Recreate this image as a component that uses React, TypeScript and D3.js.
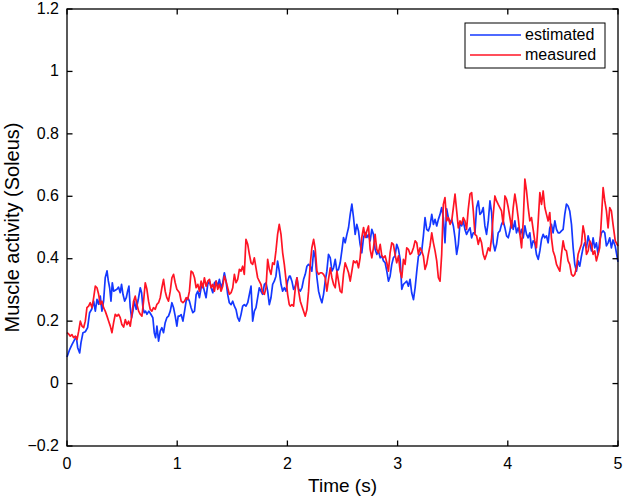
import React from "react";
import * as d3 from "d3";

const xTicks = [0, 1, 2, 3, 4, 5];
const yTicks = [-0.2, 0, 0.2, 0.4, 0.6, 0.8, 1, 1.2];
const yTickLabels = ["\u22120.2", "0", "0.2", "0.4", "0.6", "0.8", "1", "1.2"];
const seriesNames = ["estimated", "measured"];

const estimatedTime = [
  0.000, 0.024, 0.045, 0.069, 0.085, 0.097, 0.115, 0.127, 0.145, 0.166, 0.187, 0.205, 0.224, 0.242, 0.257, 0.272, 0.287, 0.302, 0.317, 0.332,
  0.347, 0.363, 0.375, 0.387, 0.399, 0.411, 0.423, 0.438, 0.453, 0.468, 0.483, 0.495, 0.508, 0.523, 0.538, 0.550, 0.562, 0.574, 0.586, 0.598,
  0.610, 0.628, 0.647, 0.665, 0.677, 0.689, 0.701, 0.713, 0.725, 0.743, 0.761, 0.779, 0.792, 0.804, 0.816, 0.831, 0.846, 0.861, 0.876, 0.891,
  0.906, 0.921, 0.937, 0.952, 0.967, 0.982, 0.997, 1.009,
  1.021, 1.036, 1.052, 1.067, 1.081, 1.096, 1.111, 1.126, 1.142, 1.157, 1.172, 1.187, 1.202, 1.217, 1.232, 1.247, 1.262, 1.277, 1.293, 1.308,
  1.323, 1.338, 1.353, 1.368, 1.383, 1.398, 1.413, 1.428, 1.443, 1.458, 1.473, 1.489, 1.504, 1.519, 1.534, 1.549, 1.564, 1.579, 1.594, 1.609,
  1.624, 1.640, 1.655, 1.670, 1.685, 1.700, 1.715, 1.730, 1.745, 1.760, 1.775, 1.791, 1.806, 1.821, 1.836, 1.851, 1.866, 1.881, 1.896, 1.911,
  1.926, 1.942, 1.957, 1.972, 1.987, 2.002,
  2.017, 2.026, 2.041, 2.056, 2.072, 2.087, 2.102, 2.117, 2.132, 2.147, 2.162, 2.177, 2.192, 2.207, 2.222, 2.238, 2.253, 2.268, 2.283, 2.298,
  2.313, 2.328, 2.343, 2.358, 2.373, 2.389, 2.404, 2.419, 2.434, 2.449, 2.464, 2.479, 2.494, 2.509, 2.524, 2.540, 2.555, 2.570, 2.585, 2.600,
  2.615, 2.630, 2.645, 2.660, 2.675, 2.691, 2.706, 2.721, 2.736, 2.751, 2.766, 2.781, 2.796, 2.811, 2.826, 2.842, 2.857, 2.872, 2.887, 2.902,
  2.917, 2.932, 2.947, 2.962, 2.977, 2.992, 3.008,
  3.023, 3.038, 3.053, 3.068, 3.083, 3.098, 3.113, 3.128, 3.144, 3.159, 3.174, 3.189, 3.204, 3.219, 3.234, 3.249, 3.264, 3.279, 3.294, 3.310,
  3.325, 3.340, 3.355, 3.370, 3.385, 3.400, 3.415, 3.430, 3.445, 3.460, 3.476, 3.491, 3.506, 3.521, 3.536, 3.551, 3.566, 3.581, 3.596, 3.611,
  3.626, 3.641, 3.657, 3.672, 3.687, 3.702, 3.717, 3.732, 3.747, 3.762, 3.777, 3.792, 3.807, 3.823, 3.838, 3.853, 3.868, 3.883, 3.898, 3.913,
  3.928, 3.943, 3.958, 3.974, 3.989, 4.004,
  4.019, 4.034, 4.049, 4.064, 4.079, 4.094, 4.110, 4.125, 4.140, 4.155, 4.170, 4.185, 4.200, 4.215, 4.230, 4.245, 4.260, 4.276, 4.291, 4.306,
  4.321, 4.336, 4.351, 4.366, 4.381, 4.396, 4.411, 4.427, 4.442, 4.457, 4.472, 4.487, 4.502, 4.517, 4.532, 4.547, 4.562, 4.578, 4.593, 4.608,
  4.623, 4.638, 4.653, 4.668, 4.683, 4.698, 4.714, 4.729, 4.744, 4.759, 4.774, 4.789, 4.804, 4.819, 4.834, 4.850, 4.865, 4.880, 4.895, 4.910,
  4.925, 4.940, 4.955, 4.975, 5.0,
];
const estimatedValue = [
  0.085, 0.109, 0.125, 0.141, 0.149, 0.115, 0.098, 0.131, 0.163, 0.166, 0.179, 0.227, 0.238, 0.264, 0.232, 0.270, 0.254, 0.280, 0.232, 0.264,
  0.339, 0.361, 0.329, 0.307, 0.264, 0.323, 0.296, 0.299, 0.302, 0.309, 0.291, 0.318, 0.286, 0.264, 0.275, 0.296, 0.312, 0.243, 0.211, 0.232,
  0.264, 0.238, 0.270, 0.307, 0.291, 0.243, 0.227, 0.232, 0.222, 0.232, 0.222, 0.211, 0.163, 0.147, 0.184, 0.136, 0.168, 0.179, 0.163, 0.195,
  0.211, 0.216, 0.232, 0.259, 0.243, 0.216, 0.184, 0.216,
  0.216, 0.221, 0.200, 0.232, 0.264, 0.275, 0.264, 0.243, 0.227, 0.232, 0.285, 0.296, 0.275, 0.307, 0.318, 0.296, 0.275, 0.318, 0.328, 0.307,
  0.291, 0.323, 0.328, 0.312, 0.334, 0.307, 0.323, 0.355, 0.328, 0.286, 0.259, 0.253, 0.264, 0.248, 0.237, 0.211, 0.200, 0.221, 0.248, 0.253,
  0.248, 0.259, 0.286, 0.312, 0.200, 0.232, 0.243, 0.275, 0.307, 0.296, 0.286, 0.318, 0.323, 0.296, 0.253, 0.275, 0.318, 0.328, 0.344, 0.392,
  0.361, 0.318, 0.296, 0.307, 0.296, 0.328,
  0.344, 0.344, 0.328, 0.302, 0.312, 0.339, 0.302, 0.296, 0.307, 0.334, 0.350, 0.376, 0.382, 0.376, 0.360, 0.425, 0.403, 0.339, 0.296, 0.275,
  0.259, 0.286, 0.328, 0.360, 0.414, 0.403, 0.360, 0.371, 0.398, 0.360, 0.366, 0.387, 0.425, 0.468, 0.451, 0.478, 0.500, 0.542, 0.575, 0.532,
  0.478, 0.510, 0.489, 0.446, 0.419, 0.468, 0.484, 0.468, 0.478, 0.457, 0.494, 0.478, 0.430, 0.414, 0.425, 0.403, 0.409, 0.393, 0.387, 0.360,
  0.328, 0.344, 0.382, 0.403, 0.409, 0.446, 0.430,
  0.398, 0.302, 0.318, 0.323, 0.328, 0.312, 0.334, 0.291, 0.269, 0.307, 0.360, 0.408, 0.414, 0.425, 0.473, 0.532, 0.494, 0.489, 0.505, 0.542,
  0.510, 0.526, 0.505, 0.526, 0.542, 0.564, 0.532, 0.451, 0.560, 0.532, 0.515, 0.526, 0.505, 0.467, 0.414, 0.446, 0.515, 0.505, 0.521, 0.494,
  0.478, 0.489, 0.499, 0.467, 0.483, 0.483, 0.564, 0.585, 0.542, 0.548, 0.564, 0.505, 0.478, 0.521, 0.585, 0.548, 0.451, 0.425, 0.446, 0.483,
  0.489, 0.510, 0.521, 0.499, 0.473, 0.467,
  0.489, 0.521, 0.494, 0.521, 0.483, 0.499, 0.478, 0.494, 0.467, 0.505, 0.478, 0.467, 0.483, 0.435, 0.457, 0.451, 0.414, 0.398, 0.425, 0.462,
  0.478, 0.467, 0.473, 0.451, 0.499, 0.510, 0.483, 0.521, 0.494, 0.483, 0.483, 0.489, 0.494, 0.542, 0.575, 0.569, 0.553, 0.510, 0.435, 0.382,
  0.360, 0.393, 0.376, 0.408, 0.435, 0.451, 0.435, 0.473, 0.451, 0.425, 0.467, 0.435, 0.451, 0.414, 0.457, 0.483, 0.489, 0.483, 0.441, 0.451,
  0.467, 0.435, 0.460, 0.440, 0.390,
];

const measuredTime = [
  0.000, 0.015, 0.030, 0.045, 0.060, 0.076, 0.091, 0.106, 0.121, 0.136, 0.151, 0.166, 0.181, 0.196, 0.211, 0.227, 0.242, 0.257, 0.272, 0.287,
  0.302, 0.317, 0.332, 0.347, 0.363, 0.378, 0.393, 0.408, 0.423, 0.438, 0.453, 0.468, 0.483, 0.498, 0.514, 0.529, 0.544, 0.559, 0.574, 0.589,
  0.604, 0.619, 0.634, 0.650, 0.665, 0.680, 0.695, 0.710, 0.725, 0.740, 0.755, 0.770, 0.785, 0.801, 0.816, 0.831, 0.846, 0.861, 0.876, 0.891,
  0.906, 0.921, 0.937, 0.952, 0.967, 0.982, 0.997,
  1.021, 1.036, 1.052, 1.067, 1.081, 1.096, 1.111, 1.126, 1.142, 1.157, 1.172, 1.187, 1.202, 1.217, 1.232, 1.247, 1.262, 1.277, 1.293, 1.308,
  1.323, 1.338, 1.353, 1.368, 1.383, 1.398, 1.413, 1.428, 1.443, 1.458, 1.473, 1.489, 1.504, 1.519, 1.534, 1.549, 1.564, 1.579, 1.594, 1.609,
  1.624, 1.640, 1.655, 1.670, 1.685, 1.700, 1.715, 1.730, 1.745, 1.760, 1.775, 1.791, 1.806, 1.821, 1.836, 1.851, 1.866, 1.881, 1.896, 1.911,
  1.926, 1.942, 1.957, 1.972, 1.987, 2.002, 2.017,
  2.026, 2.041, 2.056, 2.072, 2.087, 2.102, 2.117, 2.132, 2.147, 2.162, 2.177, 2.192, 2.207, 2.222, 2.238, 2.253, 2.268, 2.283, 2.298,
  2.313, 2.328, 2.343, 2.358, 2.373, 2.389, 2.404, 2.419, 2.434, 2.449, 2.464, 2.479, 2.494, 2.509, 2.524, 2.540, 2.555, 2.570, 2.585, 2.600,
  2.615, 2.630, 2.645, 2.660, 2.675, 2.691, 2.706, 2.721, 2.736, 2.751, 2.766, 2.781, 2.796, 2.811, 2.826, 2.842, 2.857, 2.872, 2.887, 2.902,
  2.917, 2.932, 2.947, 2.962, 2.977, 2.992, 3.008,
  3.023, 3.038, 3.053, 3.068, 3.083, 3.098, 3.113, 3.128, 3.144, 3.159, 3.174, 3.189, 3.204, 3.219, 3.234, 3.249, 3.264, 3.279, 3.294, 3.310,
  3.325, 3.340, 3.355, 3.370, 3.385, 3.400, 3.415, 3.430, 3.445, 3.460, 3.476, 3.491, 3.506, 3.521, 3.536, 3.551, 3.566, 3.581, 3.596, 3.611,
  3.626, 3.641, 3.657, 3.672, 3.687, 3.702, 3.717, 3.732, 3.747, 3.762, 3.777, 3.792, 3.807, 3.823, 3.838, 3.853, 3.868, 3.883, 3.898, 3.913,
  3.928, 3.943, 3.958, 3.974, 3.989, 4.004,
  4.019, 4.034, 4.049, 4.064, 4.079, 4.094, 4.110, 4.125, 4.140, 4.155, 4.170, 4.185, 4.200, 4.215, 4.230, 4.245, 4.260, 4.276, 4.291, 4.306,
  4.321, 4.336, 4.351, 4.366, 4.381, 4.396, 4.411, 4.427, 4.442, 4.457, 4.472, 4.487, 4.502, 4.517, 4.532, 4.547, 4.562, 4.578, 4.593, 4.608,
  4.623, 4.638, 4.653, 4.668, 4.683, 4.698, 4.714, 4.729, 4.744, 4.759, 4.774, 4.789, 4.804, 4.819, 4.834, 4.850, 4.865, 4.880, 4.895, 4.910,
  4.925, 4.940, 4.955, 4.975, 5.0,
];
const measuredValue = [
  0.163, 0.159, 0.152, 0.157, 0.147, 0.152, 0.141, 0.168, 0.200, 0.184, 0.179, 0.200, 0.243, 0.248, 0.259, 0.243, 0.275, 0.312, 0.307, 0.286,
  0.254, 0.264, 0.243, 0.232, 0.216, 0.200, 0.184, 0.163, 0.195, 0.222, 0.216, 0.222, 0.211, 0.189, 0.181, 0.205, 0.189, 0.200, 0.184, 0.222,
  0.264, 0.280, 0.254, 0.232, 0.222, 0.216, 0.264, 0.323, 0.302, 0.264, 0.238, 0.232, 0.243, 0.238, 0.254, 0.259, 0.275, 0.307, 0.334, 0.296,
  0.275, 0.264, 0.296, 0.339, 0.350, 0.323, 0.302,
  0.291, 0.264, 0.259, 0.264, 0.275, 0.270, 0.296, 0.360, 0.355, 0.339, 0.307, 0.318, 0.296, 0.328, 0.307, 0.339, 0.312, 0.328, 0.334, 0.307,
  0.318, 0.296, 0.328, 0.302, 0.318, 0.296, 0.312, 0.344, 0.328, 0.307, 0.286, 0.291, 0.307, 0.350, 0.323, 0.334, 0.366, 0.360, 0.376, 0.350,
  0.462, 0.446, 0.414, 0.387, 0.382, 0.403, 0.371, 0.339, 0.328, 0.318, 0.291, 0.286, 0.307, 0.398, 0.366, 0.350, 0.387, 0.382, 0.425, 0.478,
  0.510, 0.478, 0.419, 0.382, 0.334, 0.286, 0.253,
  0.248, 0.253, 0.248, 0.307, 0.339, 0.296, 0.264, 0.248, 0.232, 0.216, 0.237, 0.296, 0.382, 0.435, 0.462, 0.430, 0.360, 0.350, 0.355,
  0.355, 0.350, 0.339, 0.296, 0.334, 0.371, 0.339, 0.318, 0.307, 0.360, 0.328, 0.296, 0.291, 0.350, 0.387, 0.371, 0.355, 0.328, 0.360, 0.393,
  0.387, 0.393, 0.371, 0.403, 0.468, 0.500, 0.468, 0.489, 0.505, 0.430, 0.403, 0.435, 0.478, 0.430, 0.419, 0.446, 0.409, 0.403, 0.409, 0.387,
  0.360, 0.419, 0.451, 0.446, 0.414, 0.387, 0.409,
  0.360, 0.339, 0.398, 0.382, 0.435, 0.430, 0.414, 0.419, 0.435, 0.457, 0.451, 0.414, 0.435, 0.425, 0.408, 0.366, 0.382, 0.414, 0.441, 0.483,
  0.451, 0.425, 0.393, 0.339, 0.328, 0.414, 0.574, 0.596, 0.521, 0.532, 0.510, 0.521, 0.564, 0.607, 0.553, 0.499, 0.521, 0.510, 0.532, 0.521,
  0.494, 0.558, 0.607, 0.612, 0.553, 0.478, 0.473, 0.446, 0.467, 0.451, 0.414, 0.398, 0.414, 0.435, 0.425, 0.467, 0.542, 0.601, 0.585, 0.574,
  0.564, 0.553, 0.510, 0.601, 0.590, 0.564,
  0.532, 0.499, 0.564, 0.607, 0.574, 0.532, 0.478, 0.435, 0.521, 0.655, 0.617, 0.564, 0.521, 0.532, 0.494, 0.457, 0.435, 0.521, 0.612, 0.574,
  0.617, 0.564, 0.542, 0.521, 0.548, 0.467, 0.425, 0.408, 0.382, 0.371, 0.360, 0.414, 0.457, 0.430, 0.425, 0.393, 0.382, 0.350, 0.344, 0.350,
  0.371, 0.414, 0.430, 0.446, 0.505, 0.478, 0.414, 0.425, 0.457, 0.446, 0.414, 0.425, 0.393, 0.414, 0.435, 0.532, 0.628, 0.585, 0.553, 0.499,
  0.564, 0.553, 0.510, 0.457, 0.440,
];

const seriesColors = ["#1438ff", "#ff1424"];

const W = 625;
const H = 496;
const FONT = "'Liberation Sans', Arial, sans-serif";

export default function App() {
  const x = d3.scaleLinear().domain([0, 5]).range([67, 618]);
  const y = d3.scaleLinear().domain([-0.2, 1.2]).range([446, 9]);
  const [x0, x1] = x.range();
  const [y0, y1] = y.range();
  const makePath = (ts: number[], vs: number[]) =>
    d3
      .line<number>()
      .x((_, i) => x(ts[i]))
      .y((v) => y(v))(vs) || "";
  const series = [
    { ts: estimatedTime, vs: estimatedValue },
    { ts: measuredTime, vs: measuredValue },
  ];
  const tickLen = 5.5;
  const lgX = 465;
  const lgY = 23;
  return (
    <svg
      width={W}
      height={H}
      style={{ position: "absolute", left: 0, top: 0, background: "#fff" }}
      fontFamily={FONT}
    >
      <rect x={0} y={0} width={W} height={H} fill="#fff" />
      {series.map((s, i) => (
        <path
          key={i}
          d={makePath(s.ts, s.vs)}
          fill="none"
          stroke={seriesColors[i]}
          strokeWidth={1.7}
          strokeLinejoin="round"
        />
      ))}
      <rect x={x0} y={y1} width={x1 - x0} height={y0 - y1} fill="none" stroke="#000" strokeWidth={1.3} />
      {xTicks.map((t) => (
        <g key={"xt" + t}>
          <line x1={x(t)} x2={x(t)} y1={y0} y2={y0 - tickLen} stroke="#000" strokeWidth={1.3} />
          <line x1={x(t)} x2={x(t)} y1={y1} y2={y1 + tickLen} stroke="#000" strokeWidth={1.3} />
          <text x={x(t)} y={y0 + 19} textAnchor="middle" dominantBaseline="middle" fontSize={16} fill="#000">
            {String(t)}
          </text>
        </g>
      ))}
      {yTicks.map((t, i) => (
        <g key={"yt" + i}>
          <line x1={x0} x2={x0 + tickLen} y1={y(t)} y2={y(t)} stroke="#000" strokeWidth={1.3} />
          <line x1={x1} x2={x1 - tickLen} y1={y(t)} y2={y(t)} stroke="#000" strokeWidth={1.3} />
          <text x={x0 - 8} y={y(t) + 0.5} textAnchor="end" dominantBaseline="middle" fontSize={16} fill="#000">
            {yTickLabels[i]}
          </text>
        </g>
      ))}
      <text x={(x0 + x1) / 2} y={487} textAnchor="middle" dominantBaseline="middle" fontSize={19} fill="#000">
        Time (s)
      </text>
      <text
        transform={`translate(14, ${(y0 + y1) / 2}) rotate(-90)`}
        textAnchor="middle"
        dominantBaseline="middle"
        fontSize={20}
        fill="#000"
      >
        Muscle activity (Soleus)
      </text>
      <rect x={lgX} y={lgY} width={140} height={45} fill="#fff" stroke="#000" strokeWidth={1} />
      {seriesNames.map((n, i) => (
        <g key={n}>
          <line x1={lgX + 5} x2={lgX + 56} y1={lgY + 12 + i * 20} y2={lgY + 12 + i * 20} stroke={seriesColors[i]} strokeWidth={1.5} />
          <text x={lgX + 60} y={lgY + 12.5 + i * 20} dominantBaseline="middle" fontSize={16} fill="#000">
            {n}
          </text>
        </g>
      ))}
    </svg>
  );
}
